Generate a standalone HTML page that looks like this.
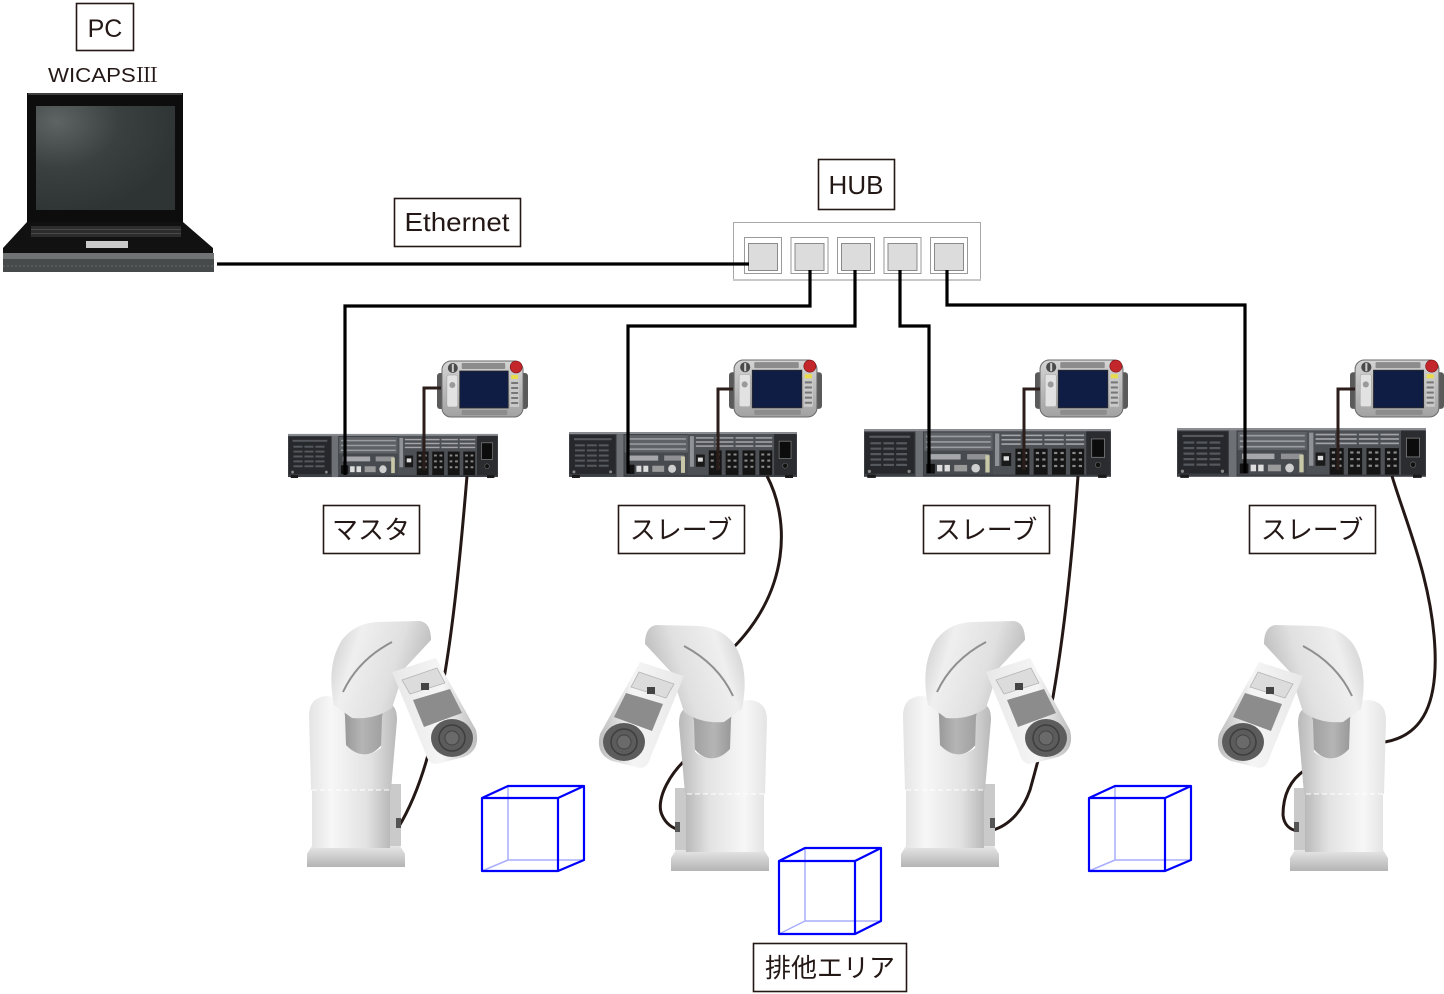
<!DOCTYPE html>
<html><head><meta charset="utf-8"><style>
html,body{margin:0;padding:0;background:#fff;}
svg{display:block;}
text{font-family:"Liberation Sans","Noto Sans CJK JP",sans-serif;fill:#231815;}
</style></head><body>
<svg width="1444" height="994" viewBox="0 0 1444 994" xmlns="http://www.w3.org/2000/svg">
<defs>
 <radialGradient id="gScreen" cx="0.15" cy="0.15" r="0.9">
  <stop offset="0" stop-color="#5e6464"/><stop offset="0.5" stop-color="#3a4040"/><stop offset="1" stop-color="#2e3434"/>
 </radialGradient>
 <linearGradient id="gCol" x1="0" y1="0" x2="1" y2="0">
  <stop offset="0" stop-color="#e4e4e4"/><stop offset="0.25" stop-color="#f7f7f7"/><stop offset="0.7" stop-color="#e2e2e2"/><stop offset="1" stop-color="#b9b9b9"/>
 </linearGradient>
 <linearGradient id="gArm" x1="0" y1="0" x2="1" y2="0.3">
  <stop offset="0" stop-color="#c8c8c8"/><stop offset="0.3" stop-color="#efefef"/><stop offset="0.7" stop-color="#e0e0e0"/><stop offset="1" stop-color="#bdbdbd"/>
 </linearGradient>
 <linearGradient id="gFore" x1="0" y1="0" x2="1" y2="0">
  <stop offset="0" stop-color="#e8e8e8"/><stop offset="0.6" stop-color="#f5f5f5"/><stop offset="1" stop-color="#bdbdbd"/>
 </linearGradient>
 <linearGradient id="gJoint" x1="0" y1="0" x2="1" y2="0">
  <stop offset="0" stop-color="#8a8a8a"/><stop offset="0.5" stop-color="#b5b5b5"/><stop offset="1" stop-color="#9a9a9a"/>
 </linearGradient>
 <linearGradient id="gPlate" x1="0" y1="0" x2="0" y2="1">
  <stop offset="0" stop-color="#e6e6e6"/><stop offset="1" stop-color="#b4b4b4"/>
 </linearGradient>
 <linearGradient id="gPend" x1="0" y1="0" x2="0" y2="1">
  <stop offset="0" stop-color="#d4d4d4"/><stop offset="1" stop-color="#a2a2a2"/>
 </linearGradient>

 <symbol id="ctrl" viewBox="0 0 230 48" preserveAspectRatio="none">
  <rect x="0" y="2" width="230" height="44" fill="#3b3e43"/>
  <rect x="0" y="2" width="230" height="2" fill="#8a8d92"/>
  <rect x="1" y="5" width="46" height="38" fill="#26282b"/>
  <g fill="#55585d">
   <rect x="5" y="8" width="38" height="2"/>
   <rect x="6" y="14" width="10" height="2"/><rect x="18" y="14" width="10" height="2"/><rect x="30" y="14" width="10" height="2"/>
   <rect x="6" y="19" width="10" height="2"/><rect x="18" y="19" width="10" height="2"/><rect x="30" y="19" width="10" height="2"/>
   <rect x="6" y="24" width="10" height="2"/><rect x="18" y="24" width="10" height="2"/><rect x="30" y="24" width="10" height="2"/>
   <rect x="6" y="29" width="10" height="2"/><rect x="18" y="29" width="10" height="2"/><rect x="30" y="29" width="10" height="2"/>
   <rect x="6" y="34" width="10" height="2"/><rect x="18" y="34" width="10" height="2"/><rect x="30" y="34" width="10" height="2"/>
  </g>
  <circle cx="5" cy="41" r="1.5" fill="#888"/><circle cx="42" cy="41" r="1.5" fill="#888"/>
  <rect x="48" y="4" width="7" height="42" fill="#6d7075"/>
  <rect x="56" y="5" width="64" height="17" fill="#5e6166"/>
  <g fill="#9a9da1"><rect x="58" y="8" width="60" height="1.5"/><rect x="58" y="13" width="60" height="1.5"/><rect x="58" y="18" width="60" height="1.5"/></g>
  <rect x="56" y="22" width="64" height="22" fill="#474a4f"/>
  <rect x="60" y="25" width="30" height="5" fill="#a5a7aa"/>
  <rect x="96" y="25" width="20" height="5" fill="#8e9094"/>
  <rect x="58" y="34" width="8" height="9" fill="#111"/>
  <rect x="68" y="35" width="5" height="6" fill="#ddd"/>
  <rect x="75" y="35" width="5" height="6" fill="#ddd"/>
  <rect x="84" y="35" width="12" height="6" fill="#9a9a9a"/>
  <circle cx="104" cy="38" r="4" fill="#cfcfcf"/>
  <rect x="113" y="26" width="4" height="16" fill="#c8c8a8"/>
  <rect x="120" y="4" width="87" height="40" fill="#4d5055"/>
  <g fill="#a3a5a8">
   <rect x="128" y="7" width="18" height="1.5"/><rect x="148" y="7" width="18" height="1.5"/><rect x="168" y="7" width="18" height="1.5"/><rect x="188" y="7" width="17" height="1.5"/>
   <rect x="128" y="11" width="18" height="1.5"/><rect x="148" y="11" width="18" height="1.5"/><rect x="168" y="11" width="18" height="1.5"/><rect x="188" y="11" width="17" height="1.5"/>
   <rect x="128" y="15" width="18" height="1.5"/><rect x="148" y="15" width="18" height="1.5"/><rect x="168" y="15" width="18" height="1.5"/><rect x="188" y="15" width="17" height="1.5"/>
  </g>
  <rect x="122" y="6" width="4" height="30" fill="#8f9296"/>
  <rect x="128" y="24" width="9" height="12" fill="#1a1a1a"/>
  <rect x="130" y="27" width="5" height="4" fill="#ddd"/>
  <g fill="#151515">
   <rect x="141" y="20" width="13" height="24"/><rect x="158" y="20" width="13" height="24"/>
   <rect x="175" y="20" width="13" height="24"/><rect x="192" y="20" width="13" height="24"/>
  </g>
  <g fill="#8a8a8a">
   <rect x="143" y="23" width="3" height="2"/><rect x="149" y="23" width="3" height="2"/><rect x="143" y="29" width="3" height="2"/><rect x="149" y="29" width="3" height="2"/><rect x="143" y="35" width="3" height="2"/><rect x="149" y="35" width="3" height="2"/>
   <rect x="160" y="23" width="3" height="2"/><rect x="166" y="23" width="3" height="2"/><rect x="160" y="29" width="3" height="2"/><rect x="166" y="29" width="3" height="2"/><rect x="160" y="35" width="3" height="2"/><rect x="166" y="35" width="3" height="2"/>
   <rect x="177" y="23" width="3" height="2"/><rect x="183" y="23" width="3" height="2"/><rect x="177" y="29" width="3" height="2"/><rect x="183" y="29" width="3" height="2"/><rect x="177" y="35" width="3" height="2"/><rect x="183" y="35" width="3" height="2"/>
   <rect x="194" y="23" width="3" height="2"/><rect x="200" y="23" width="3" height="2"/><rect x="194" y="29" width="3" height="2"/><rect x="200" y="29" width="3" height="2"/><rect x="194" y="35" width="3" height="2"/><rect x="200" y="35" width="3" height="2"/>
  </g>
  <rect x="207" y="4" width="22" height="40" fill="#2a2c30"/>
  <rect x="212" y="11" width="12" height="17" fill="#0c0c0c" stroke="#777" stroke-width="0.8"/>
  <circle cx="218" cy="35" r="2.5" fill="#111" stroke="#666" stroke-width="0.6"/>
  <rect x="3" y="44" width="8" height="3" fill="#1a1a1a"/><rect x="218" y="44" width="8" height="3" fill="#1a1a1a"/>
 </symbol>

 <symbol id="pend" viewBox="0 0 92 60" preserveAspectRatio="none">
  <rect x="0" y="14" width="9" height="36" rx="3" fill="#5a5a5a"/>
  <rect x="83" y="14" width="9" height="36" rx="3" fill="#5a5a5a"/>
  <rect x="5" y="2" width="82" height="56" rx="9" fill="url(#gPend)" stroke="#6a6a6a" stroke-width="1"/>
  <rect x="10" y="16" width="11" height="32" rx="2" fill="#e2e2e2" stroke="#999" stroke-width="0.5"/>
  <circle cx="15.5" cy="26" r="3" fill="#9a9a9a"/>
  <circle cx="16" cy="9" r="5" fill="#4a4a4a"/><rect x="15" y="5" width="2" height="8" fill="#ccc"/>
  <rect x="25" y="4" width="44" height="6" rx="1" fill="#8c8c8c"/>
  <rect x="23" y="12" width="49" height="37" fill="#0f1c44" stroke="#2a2a2a" stroke-width="0.8"/>
  <rect x="25" y="51" width="46" height="5" rx="1" fill="#8c8c8c"/>
  <circle cx="80" cy="8" r="6" fill="#c3262b" stroke="#7a1013" stroke-width="0.6"/>
  <rect x="74" y="15" width="9" height="33" fill="#c9c9c9"/>
  <rect x="75" y="16" width="7" height="4" fill="#e8da4a"/>
  <g fill="#777"><rect x="75" y="23" width="7" height="2"/><rect x="75" y="28" width="7" height="2"/><rect x="75" y="33" width="7" height="2"/><rect x="75" y="38" width="7" height="2"/><rect x="75" y="43" width="7" height="2"/></g>
 </symbol>

 <g id="robot">
  <rect x="385" y="784" width="16" height="62" fill="#cacaca"/>
  <rect x="396" y="818" width="5" height="10" fill="#555"/>
  <path d="M312,846 L400,846 L405,854 L405,867 L307,867 L307,854 Z" fill="url(#gPlate)"/>
  <rect x="312" y="786" width="78" height="62" fill="url(#gCol)"/>
  <ellipse cx="362" cy="725" rx="26" ry="30" fill="url(#gJoint)"/>
  <path d="M311,790 L309,716 Q309,697 327,696 Q344,697 345,716 L346,745 Q362,762 381,748 L382,717 Q384,704 391,705 Q397,707 397,720 L391,790 Z" fill="url(#gCol)"/>
  <line x1="312" y1="790" x2="390" y2="790" stroke="#ffffff" stroke-dasharray="5,3" stroke-width="1"/>
  <path d="M334,705 Q326,665 342,640 Q355,623 378,622 L420,621 Q431,623 431,640 L405,668 L392,708 Q375,720 352,718 Z" fill="url(#gArm)"/>
  <path d="M343,692 Q358,660 392,642" stroke="#8f8f8f" stroke-width="2" fill="none"/>
  <path d="M392,672 L436,658 L476,730 Q481,750 464,757 L436,764 Q428,764 425,752 Z" fill="url(#gFore)"/>
  <path d="M402,680 L437,668 L445,683 L410,694 Z" fill="#dcdcdc" stroke="#b5b5b5" stroke-width="0.8"/>
  <rect x="421" y="683" width="8" height="7" fill="#444"/>
  <path d="M413,700 L450,689 L462,713 L424,727 Z" fill="#8c8c8c"/>
  <ellipse cx="452" cy="738" rx="21" ry="19" fill="#5c5c5c"/>
  <circle cx="452" cy="738" r="13" fill="none" stroke="#3e3e3e" stroke-width="1.5"/>
  <circle cx="452" cy="738" r="7" fill="#6a6a6a" stroke="#444"/>
 </g>
</defs>

<!-- PC label -->
<rect x="76.5" y="3.5" width="57" height="47" fill="none" stroke="#231815" stroke-width="1.6"/>
<text x="105" y="37" font-size="25" text-anchor="middle">PC</text>
<text x="103" y="82" font-size="20" text-anchor="middle" textLength="110" lengthAdjust="spacingAndGlyphs">WICAPS<tspan style="font-family:'Noto Serif CJK SC','Noto Sans CJK JP',serif">Ⅲ</tspan></text>

<!-- laptop -->
<rect x="27" y="93" width="156" height="130" fill="#0d0d0d"/>
<rect x="28" y="93" width="154" height="2" fill="#3e3e3e"/>
<rect x="36" y="106" width="139" height="104" fill="url(#gScreen)"/>
<path d="M27,222 L183,222 L213,248 L213,254 L3,254 L3,248 Z" fill="#111"/>
<rect x="31" y="226" width="150" height="11" fill="#2c2c2c"/>
<g fill="#4a4a4a"><rect x="31" y="229" width="150" height="1"/><rect x="31" y="233" width="150" height="1"/></g>
<rect x="86" y="241" width="42" height="7" fill="#c9c9c9"/>
<rect x="3" y="253" width="211" height="6" fill="#6f7373"/>
<rect x="3" y="259" width="211" height="13" fill="#474a4a"/>
<line x1="3" y1="266" x2="214" y2="266" stroke="#686b6b" stroke-width="1" stroke-dasharray="2,2"/>

<!-- Ethernet label -->
<rect x="394.5" y="198.5" width="126" height="48" fill="none" stroke="#231815" stroke-width="1.6"/>
<text x="457" y="231" font-size="26" text-anchor="middle" textLength="105" lengthAdjust="spacingAndGlyphs">Ethernet</text>

<!-- HUB label -->
<rect x="818.5" y="159.5" width="76" height="50" fill="none" stroke="#231815" stroke-width="1.6"/>
<text x="856" y="194" font-size="26" text-anchor="middle">HUB</text>

<!-- hub -->
<rect x="733.5" y="222.5" width="247" height="57" fill="#fff" stroke="#a8a8a8" stroke-width="1"/>
<line x1="733" y1="280" x2="981" y2="280" stroke="#c8c8c8" stroke-width="2"/>
<g fill="#fff" stroke="#9a9a9a" stroke-width="1">
 <rect x="744.5" y="237.5" width="37" height="36"/><rect x="791" y="237.5" width="37" height="36"/>
 <rect x="837.5" y="237.5" width="37" height="36"/><rect x="884" y="237.5" width="37" height="36"/>
 <rect x="930.5" y="237.5" width="37" height="36"/>
</g>
<g fill="#dcdcdc" stroke="#8a8a8a" stroke-width="1">
 <rect x="748.5" y="243.5" width="29" height="27"/><rect x="795" y="243.5" width="29" height="27"/>
 <rect x="841.5" y="243.5" width="29" height="27"/><rect x="888" y="243.5" width="29" height="27"/>
 <rect x="934.5" y="243.5" width="29" height="27"/>
</g>

<!-- controllers and pendants -->
<use href="#ctrl" x="288" y="432" width="210" height="47"/>
<use href="#ctrl" x="569" y="430" width="228" height="49"/>
<use href="#ctrl" x="864" y="427" width="247" height="52"/>
<use href="#ctrl" x="1177" y="426" width="249" height="53"/>
<use href="#pend" x="437" y="359" width="91" height="60"/>
<use href="#pend" x="729" y="358" width="93" height="61"/>
<use href="#pend" x="1035" y="358" width="93" height="61"/>
<use href="#pend" x="1350" y="358" width="94" height="61"/>

<!-- pendant cables -->
<g fill="none" stroke="#2b1d1a" stroke-width="3">
 <path d="M424,470 V388 H441"/>
 <path d="M718,470 V389 H733"/>
 <path d="M1024,470 V389 H1040"/>
 <path d="M1338,470 V389 H1355"/>
</g>

<!-- ethernet lines -->
<g fill="none" stroke="#000" stroke-width="3.2">
 <path d="M217,264 H749"/>
 <path d="M810,270 V306 H345 V475"/>
 <path d="M855,270 V326 H628 V473"/>
 <path d="M900,270 V326 H929 V473"/>
 <path d="M947,270 V305 H1245 V473"/>
</g>

<!-- robot cables -->
<g fill="none" stroke="#231815" stroke-width="3">
 <path d="M467,476 C460,560 452,640 440,700 C430,760 415,800 398,828"/>
 <path d="M767,476 C790,520 790,590 733,648"/>
 <path d="M695,752 C670,770 655,800 662,815 C666,824 672,828 680,830"/>
 <path d="M1078,476 C1072,560 1063,640 1053,697 C1045,735 1037,765 1030,790 C1023,810 1010,825 993,830"/>
 <path d="M1392,476 C1405,520 1432,580 1435,650 C1437,700 1425,735 1385,742"/>
 <path d="M1305,770 C1290,780 1283,795 1283,815 C1284,825 1290,830 1298,831"/>
</g>

<!-- robots -->
<use href="#robot"/>
<use href="#robot" transform="translate(1076,4) scale(-1,1)"/>
<use href="#robot" transform="translate(594,0)"/>
<use href="#robot" transform="translate(1695,4) scale(-1,1)"/>

<!-- labels -->
<g fill="none" stroke="#231815" stroke-width="1.6">
 <rect x="323.5" y="505.5" width="96" height="48"/>
 <rect x="618.5" y="505.5" width="126" height="48"/>
 <rect x="923.5" y="505.5" width="126" height="48"/>
 <rect x="1249.5" y="505.5" width="126" height="48"/>
 <rect x="753.5" y="943.5" width="153" height="48"/>
</g>
<text x="371" y="539" font-size="26" text-anchor="middle">マスタ</text>
<text x="681" y="539" font-size="26" text-anchor="middle">スレーブ</text>
<text x="986" y="539" font-size="26" text-anchor="middle">スレーブ</text>
<text x="1312" y="539" font-size="26" text-anchor="middle">スレーブ</text>
<text x="830" y="977" font-size="26" text-anchor="middle">排他エリア</text>

<!-- cubes -->
<g fill="none" stroke-linejoin="round">
 <g stroke="#a9aefc" stroke-width="1.5">
  <path d="M508,786 V860 H584 M508,860 L482,871"/>
  <path d="M805,848 V921 H881 M805,921 L779,934"/>
  <path d="M1115,786 V860 H1191 M1115,860 L1089,871"/>
 </g>
 <g stroke="#0000ff" stroke-width="2.2">
  <path d="M482,798 H558 V871 H482 Z M482,798 L508,786 H584 L558,798 M584,786 V860 L558,871"/>
  <path d="M779,861 H855 V934 H779 Z M779,861 L805,848 H881 L855,861 M881,848 V921 L855,934"/>
  <path d="M1089,798 H1165 V871 H1089 Z M1089,798 L1115,786 H1191 L1165,798 M1191,786 V860 L1165,871"/>
 </g>
</g>
</svg>
</body></html>
